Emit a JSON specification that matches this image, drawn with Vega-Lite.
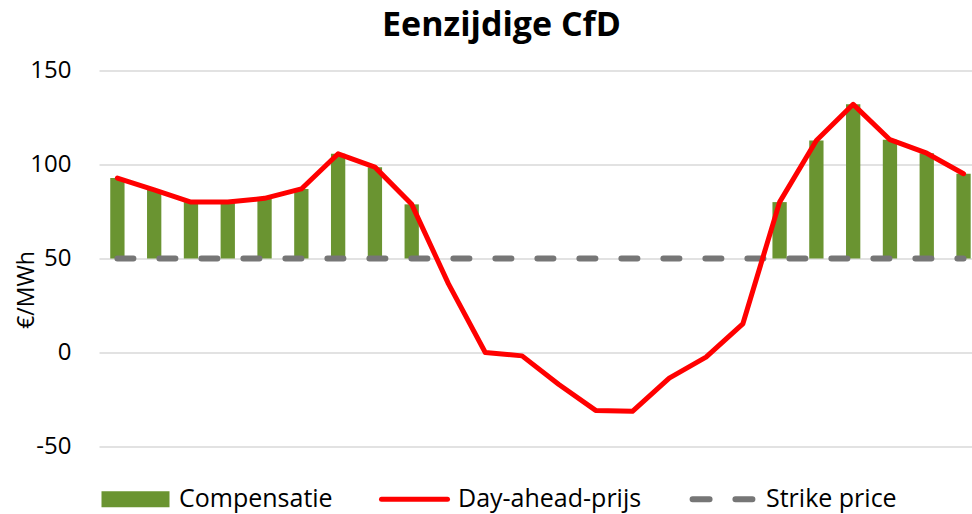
{
  "$schema": "https://vega.github.io/schema/vega-lite/v6.json",
  "autosize": {"type": "none"},
  "padding": {"left": 99, "top": 70.5, "right": 0, "bottom": 67.5},
  "width": 873,
  "height": 376,
  "background": "white",
  "config": {
    "view": {"stroke": null},
    "font": "Open Sans"
  },
  "title": {
    "text": "Eenzijdige CfD",
    "font": "Open Sans",
    "fontWeight": "bold",
    "fontSize": 34,
    "color": "#000000",
    "anchor": "middle",
    "frame": "group",
    "dx": -34,
    "offset": 16
  },
  "data": {
    "values": [
      {"hour": 1, "price": 92.8, "strike": 50},
      {"hour": 2, "price": 86.5, "strike": 50},
      {"hour": 3, "price": 80, "strike": 50},
      {"hour": 4, "price": 80, "strike": 50},
      {"hour": 5, "price": 82, "strike": 50},
      {"hour": 6, "price": 87, "strike": 50},
      {"hour": 7, "price": 105.7, "strike": 50},
      {"hour": 8, "price": 98.6, "strike": 50},
      {"hour": 9, "price": 78.8, "strike": 50},
      {"hour": 10, "price": 36.5, "strike": 50},
      {"hour": 11, "price": 0, "strike": 50},
      {"hour": 12, "price": -1.8, "strike": 50},
      {"hour": 13, "price": -17, "strike": 50},
      {"hour": 14, "price": -30.8, "strike": 50},
      {"hour": 15, "price": -31.3, "strike": 50},
      {"hour": 16, "price": -13.6, "strike": 50},
      {"hour": 17, "price": -2.5, "strike": 50},
      {"hour": 18, "price": 15.2, "strike": 50},
      {"hour": 19, "price": 80, "strike": 50},
      {"hour": 20, "price": 112.8, "strike": 50},
      {"hour": 21, "price": 132, "strike": 50},
      {"hour": 22, "price": 113.2, "strike": 50},
      {"hour": 23, "price": 106, "strike": 50},
      {"hour": 24, "price": 95.1, "strike": 50}
    ]
  },
  "encoding": {
    "x": {
      "field": "hour",
      "type": "quantitative",
      "scale": {"domain": [0.5, 24.23], "nice": false, "zero": false, "padding": 0},
      "axis": null
    }
  },
  "layer": [
    {
      "transform": [{"filter": "datum.price > datum.strike"}],
      "mark": {"type": "bar", "width": 14.3, "color": "#6a9431"},
      "encoding": {
        "y": {
          "field": "price",
          "type": "quantitative",
          "scale": {"domain": [-50, 150], "nice": false, "zero": false},
          "axis": {
            "title": "€/MWh",
            "titleFont": "Open Sans",
            "titleFontSize": 23,
            "titleFontWeight": "normal",
            "titleColor": "#000000",
            "titleAngle": -90,
            "titleX": -73,
            "titleY": 219,
            "titleAlign": "center",
            "titleBaseline": "middle",
            "values": [-50, 0, 50, 100, 150],
            "labelExpr": "toString(datum.value)",
            "labelFont": "Open Sans",
            "labelFontSize": 24,
            "labelColor": "#000000",
            "labelPadding": 28,
            "ticks": false,
            "domain": false,
            "grid": true,
            "gridColor": "#d9d9d9",
            "gridWidth": 1.5
          }
        },
        "y2": {"field": "strike"},
        "color": {
          "datum": "Compensatie",
          "type": "nominal",
          "scale": {
            "domain": ["Compensatie", "Day-ahead-prijs", "Strike price"],
            "range": ["#6a9431", "#ff0000", "#767676"]
          },
          "legend": {
            "orient": "none",
            "legendX": 24,
            "legendY": 416,
            "direction": "horizontal",
            "title": null,
            "symbolSize": 4624,
            "labelFont": "Open Sans",
            "labelFontSize": 25,
            "labelColor": "#000000",
            "labelOffset": 31,
            "labelLimit": 400,
            "columnPadding": 38,
            "encode": {
              "symbols": {
                "update": {
                  "shape": {"signal": "datum.value === 'Compensatie' ? 'M-1,-0.235H1V0.235H-1Z' : (datum.value === 'Day-ahead-prijs' ? 'M-0.97,0H0.97' : 'M-0.88,0H-0.38M0.38,0H0.88')"},
                  "fill": {"signal": "datum.value === 'Compensatie' ? '#6a9431' : 'transparent'"},
                  "stroke": {"signal": "datum.value === 'Compensatie' ? 'transparent' : (datum.value === 'Day-ahead-prijs' ? '#ff0000' : '#767676')"},
                  "strokeWidth": {"signal": "datum.value === 'Compensatie' ? 0 : (datum.value === 'Day-ahead-prijs' ? 5 : 6)"},
                  "strokeCap": {"value": "round"},
                  "opacity": {"value": 1},
                  "fillOpacity": {"value": 1},
                  "strokeOpacity": {"value": 1}
                }
              }
            }
          }
        }
      }
    },
    {
      "mark": {"type": "line", "color": "#767676", "strokeWidth": 6, "strokeDash": [16, 26], "strokeCap": "round"},
      "encoding": {
        "y": {"field": "strike", "type": "quantitative"},
        "color": {"datum": "Strike price", "type": "nominal"}
      }
    },
    {
      "mark": {"type": "line", "color": "#ff0000", "strokeWidth": 5, "strokeJoin": "round", "strokeCap": "round"},
      "encoding": {
        "y": {"field": "price", "type": "quantitative"},
        "color": {"datum": "Day-ahead-prijs", "type": "nominal"}
      }
    }
  ]
}
